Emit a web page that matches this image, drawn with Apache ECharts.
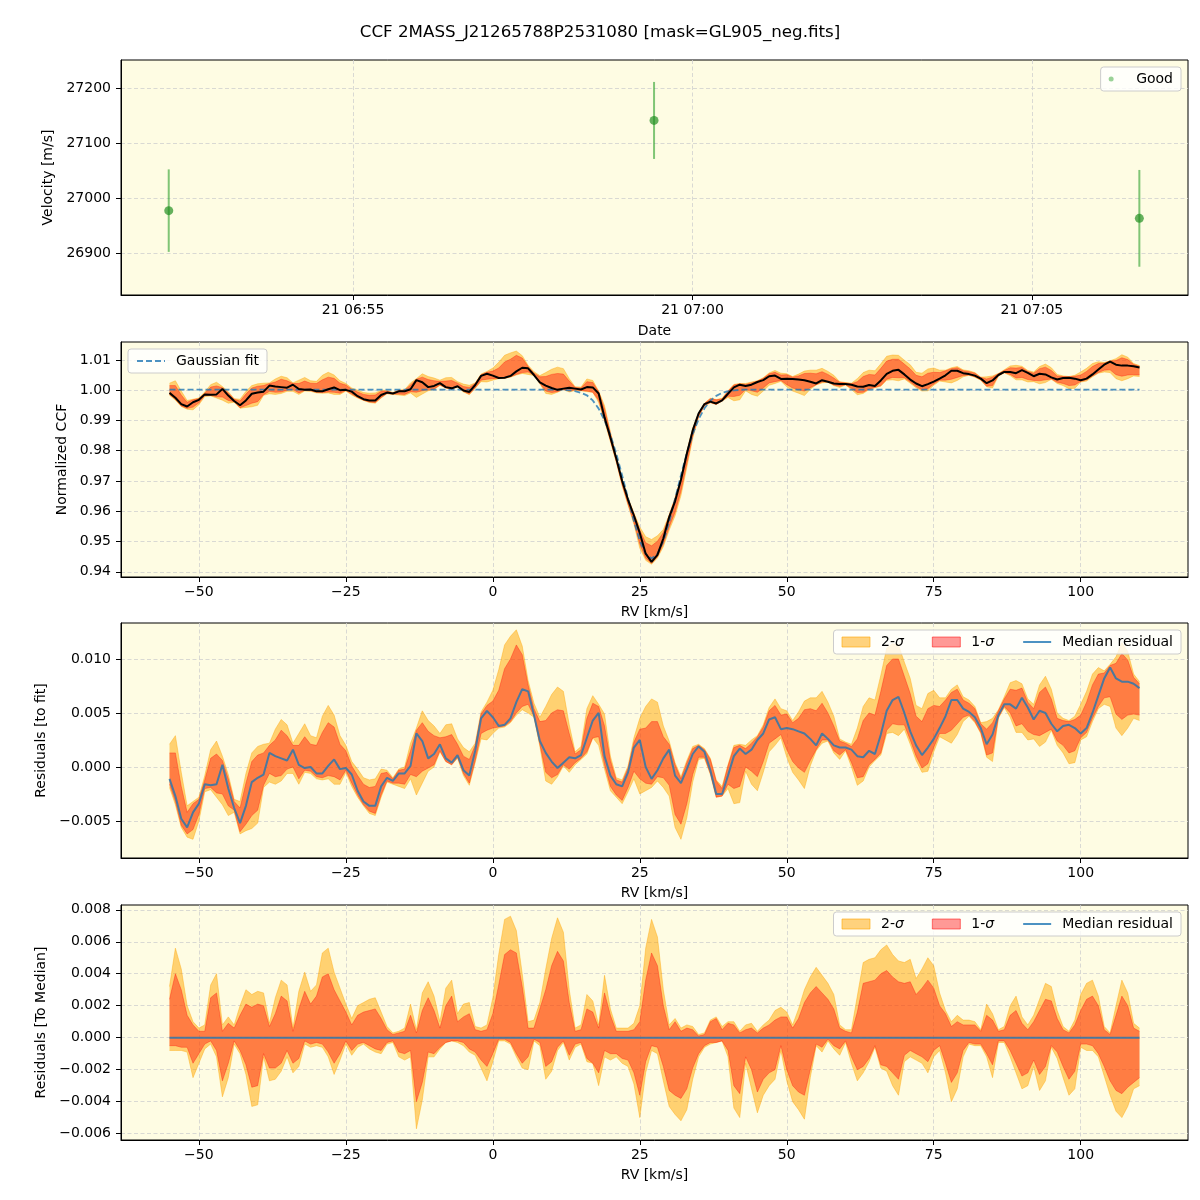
<!DOCTYPE html>
<html><head><meta charset="utf-8">
<script src="https://cdn.jsdelivr.net/npm/echarts@6/dist/echarts.min.js"></script>
<style>html,body{margin:0;padding:0;background:#fff}#c{width:1200px;height:1200px}</style>
</head><body><div id="c"></div>
<script>
// ---------------- data ----------------
const obsDay = '21';
const obsTimes = ['06:52:17', '06:59:26', '07:06:35'];
const obsRV = [26977, 27141, 26963];
const obsErr = [75, 70, 88];
const timeTicks = ['06:55', '07:00', '07:05'];
const velTicks = [26900, 27000, 27100, 27200];
const rvTicks = [-50, -25, 0, 25, 50, 75, 100];
const ccfTicks = [0.94, 0.95, 0.96, 0.97, 0.98, 0.99, 1.00, 1.01];
const resTicks = [-0.005, 0.000, 0.005, 0.010];
const medTicks = [-0.006, -0.004, -0.002, 0.000, 0.002, 0.004, 0.006, 0.008];

const rv = [
-55,-54,-53,-52,-51,-50,-49,-48,-47,-46,
-45,-44,-43,-42,-41,-40,-39,-38,-37,-36,
-35,-34,-33,-32,-31,-30,-29,-28,-27,-26,
-25,-24,-23,-22,-21,-20,-19,-18,-17,-16,
-15,-14,-13,-12,-11,-10,-9,-8,-7,-6,
-5,-4,-3,-2,-1,0,1,2,3,4,
5,6,7,8,9,10,11,12,13,14,
15,16,17,18,19,20,21,22,23,24,
25,26,27,28,29,30,31,32,33,34,
35,36,37,38,39,40,41,42,43,44,
45,46,47,48,49,50,51,52,53,54,
55,56,57,58,59,60,61,62,63,64,
65,66,67,68,69,70,71,72,73,74,
75,76,77,78,79,80,81,82,83,84,
85,86,87,88,89,90,91,92,93,94,
95,96,97,98,99,100,101,102,103,104,
105,106,107,108,109,110];

// Gaussian fit to the CCF
const gaussFit = [
1.0002,1.0002,1.0002,1.0002,1.0002,1.0002,1.0002,1.0002,1.0002,1.0002,
1.0002,1.0002,1.0002,1.0002,1.0002,1.0002,1.0002,1.0002,1.0002,1.0002,
1.0002,1.0002,1.0002,1.0002,1.0002,1.0002,1.0002,1.0002,1.0002,1.0002,
1.0002,1.0002,1.0002,1.0002,1.0002,1.0002,1.0002,1.0002,1.0002,1.0002,
1.0002,1.0002,1.0002,1.0002,1.0002,1.0002,1.0002,1.0002,1.0002,1.0002,
1.0002,1.0002,1.0002,1.0002,1.0002,1.0002,1.0002,1.0002,1.0002,1.0002,
1.0002,1.0002,1.0002,1.0002,1.0002,1.0002,1.0002,1.0001,0.9999,0.9997,
0.9991,0.9983,0.9966,0.9939,0.9900,0.9852,0.9790,0.9718,0.9643,0.9568,
0.9503,0.9460,0.9444,0.9459,0.9502,0.9565,0.9641,0.9719,0.9792,0.9855,
0.9904,0.9940,0.9965,0.9981,0.9991,0.9996,0.9999,1.0001,1.0002,1.0002,
1.0002,1.0002,1.0002,1.0002,1.0002,1.0002,1.0002,1.0002,1.0002,1.0002,
1.0002,1.0002,1.0002,1.0002,1.0002,1.0002,1.0002,1.0002,1.0002,1.0002,
1.0002,1.0002,1.0002,1.0002,1.0002,1.0002,1.0002,1.0002,1.0002,1.0002,
1.0002,1.0002,1.0002,1.0002,1.0002,1.0002,1.0002,1.0002,1.0002,1.0002,
1.0002,1.0002,1.0002,1.0002,1.0002,1.0002,1.0002,1.0002,1.0002,1.0002,
1.0002,1.0002,1.0002,1.0002,1.0002,1.0002,1.0002,1.0002,1.0002,1.0002,
1.0002,1.0002,1.0002,1.0002,1.0002,1.0002];

// Median residual to the fit
const medRes = [
-0.0011,-0.0027,-0.0048,-0.0056,-0.0042,-0.0034,-0.0016,-0.0017,-0.0016,0.0002,
-0.0020,-0.0038,-0.0052,-0.0036,-0.0014,-0.0010,-0.0007,0.0013,0.0010,0.0008,
0.0006,0.0016,0.0002,-0.0001,0.0000,-0.0006,-0.0006,0.0001,0.0007,-0.0002,
-0.0001,-0.0007,-0.0022,-0.0032,-0.0036,-0.0036,-0.0018,-0.0010,-0.0013,-0.0006,
-0.0006,0.0001,0.0031,0.0024,0.0008,0.0012,0.0021,0.0008,0.0004,0.0011,
-0.0003,-0.0008,0.0015,0.0045,0.0052,0.0046,0.0038,0.0039,0.0045,0.0060,
0.0072,0.0070,0.0048,0.0024,0.0013,0.0005,-0.0001,0.0004,0.0009,0.0008,
0.0011,0.0027,0.0043,0.0050,0.0010,-0.0008,-0.0016,-0.0018,-0.0005,0.0018,
0.0025,0.0000,-0.0011,-0.0003,0.0008,0.0016,-0.0008,-0.0015,-0.0002,0.0012,
0.0019,0.0014,-0.0003,-0.0025,-0.0025,-0.0008,0.0010,0.0017,0.0012,0.0016,
0.0025,0.0031,0.0044,0.0046,0.0035,0.0036,0.0035,0.0033,0.0031,0.0026,
0.0020,0.0031,0.0026,0.0020,0.0018,0.0018,0.0016,0.0010,0.0009,0.0015,
0.0012,0.0030,0.0052,0.0062,0.0065,0.0050,0.0033,0.0020,0.0011,0.0018,
0.0026,0.0036,0.0047,0.0062,0.0062,0.0054,0.0051,0.0046,0.0036,0.0021,
0.0030,0.0048,0.0058,0.0058,0.0054,0.0064,0.0055,0.0044,0.0052,0.0050,
0.0040,0.0033,0.0038,0.0039,0.0036,0.0031,0.0036,0.0050,0.0066,0.0082,
0.0092,0.0082,0.0079,0.0079,0.0077,0.0073];

// band edges relative to the median (residuals to median)
const dev1Up = [
0.0024,0.0040,0.0030,0.0014,0.0008,0.0004,0.0004,0.0025,0.0028,0.0004,
0.0009,0.0006,0.0014,0.0021,0.0019,0.0021,0.0020,0.0007,0.0015,0.0026,
0.0023,0.0004,0.0018,0.0029,0.0021,0.0026,0.0038,0.0040,0.0030,0.0023,
0.0016,0.0008,0.0014,0.0016,0.0017,0.0018,0.0012,0.0005,0.0002,0.0003,
0.0004,0.0014,0.0003,0.0017,0.0025,0.0017,0.0006,0.0020,0.0026,0.0010,
0.0013,0.0015,0.0005,0.0004,0.0005,0.0015,0.0033,0.0052,0.0055,0.0053,
0.0032,0.0006,0.0006,0.0018,0.0030,0.0045,0.0054,0.0048,0.0022,0.0004,
0.0005,0.0018,0.0016,0.0006,0.0028,0.0014,0.0004,0.0004,0.0004,0.0005,
0.0010,0.0036,0.0053,0.0045,0.0020,0.0005,0.0010,0.0004,0.0006,0.0005,
0.0001,0.0002,0.0010,0.0012,0.0005,0.0009,0.0008,0.0003,0.0005,0.0006,
0.0003,0.0006,0.0008,0.0011,0.0013,0.0013,0.0006,0.0012,0.0022,0.0028,
0.0032,0.0028,0.0024,0.0018,0.0006,0.0004,0.0003,0.0016,0.0034,0.0035,
0.0036,0.0040,0.0042,0.0038,0.0035,0.0034,0.0035,0.0027,0.0031,0.0036,
0.0031,0.0020,0.0015,0.0007,0.0010,0.0008,0.0008,0.0008,0.0004,0.0014,
0.0011,0.0004,0.0005,0.0014,0.0017,0.0009,0.0005,0.0010,0.0017,0.0024,
0.0023,0.0012,0.0005,0.0003,0.0008,0.0017,0.0024,0.0026,0.0020,0.0005,
0.0002,0.0014,0.0026,0.0020,0.0006,0.0004];

const dev2Up = [
0.0032,0.0056,0.0043,0.0020,0.0010,0.0006,0.0008,0.0033,0.0040,0.0008,
0.0013,0.0008,0.0020,0.0030,0.0027,0.0029,0.0028,0.0009,0.0025,0.0036,
0.0033,0.0006,0.0029,0.0041,0.0029,0.0033,0.0053,0.0056,0.0041,0.0031,
0.0021,0.0012,0.0020,0.0022,0.0024,0.0025,0.0016,0.0007,0.0003,0.0004,
0.0006,0.0021,0.0005,0.0028,0.0035,0.0026,0.0010,0.0031,0.0036,0.0015,
0.0021,0.0022,0.0007,0.0006,0.0008,0.0025,0.0052,0.0074,0.0076,0.0067,
0.0040,0.0010,0.0011,0.0022,0.0043,0.0062,0.0075,0.0066,0.0030,0.0006,
0.0008,0.0027,0.0023,0.0008,0.0039,0.0018,0.0006,0.0006,0.0006,0.0009,
0.0020,0.0056,0.0074,0.0063,0.0030,0.0008,0.0012,0.0006,0.0008,0.0007,
0.0002,0.0003,0.0011,0.0013,0.0007,0.0010,0.0010,0.0004,0.0008,0.0009,
0.0004,0.0008,0.0011,0.0017,0.0019,0.0016,0.0008,0.0018,0.0030,0.0038,
0.0044,0.0039,0.0034,0.0027,0.0008,0.0005,0.0005,0.0026,0.0047,0.0049,
0.0050,0.0055,0.0058,0.0052,0.0048,0.0047,0.0049,0.0037,0.0043,0.0050,
0.0045,0.0028,0.0017,0.0010,0.0014,0.0011,0.0011,0.0010,0.0005,0.0021,
0.0015,0.0005,0.0007,0.0020,0.0026,0.0013,0.0008,0.0014,0.0024,0.0034,
0.0032,0.0017,0.0007,0.0004,0.0011,0.0027,0.0034,0.0036,0.0026,0.0007,
0.0003,0.0020,0.0036,0.0028,0.0009,0.0006];

const dev1Lo = [
-0.0005,-0.0005,-0.0006,-0.0006,-0.0016,-0.0010,-0.0004,-0.0002,-0.0008,-0.0027,
-0.0016,-0.0002,-0.0008,-0.0017,-0.0031,-0.0030,-0.0010,-0.0019,-0.0019,-0.0016,
-0.0008,-0.0016,-0.0013,-0.0002,-0.0004,-0.0003,-0.0004,-0.0009,-0.0016,-0.0010,
-0.0002,-0.0008,-0.0004,-0.0003,-0.0005,-0.0007,-0.0008,-0.0003,-0.0002,-0.0009,
-0.0010,-0.0008,-0.0040,-0.0028,-0.0009,-0.0010,-0.0006,-0.0003,-0.0002,-0.0002,
-0.0003,-0.0007,-0.0009,-0.0014,-0.0018,-0.0010,-0.0001,-0.0001,-0.0003,-0.0010,
-0.0016,-0.0012,-0.0001,-0.0003,-0.0018,-0.0015,-0.0006,-0.0002,-0.0011,-0.0004,
-0.0003,-0.0013,-0.0016,-0.0022,-0.0008,-0.0010,-0.0010,-0.0013,-0.0014,-0.0022,
-0.0036,-0.0015,-0.0005,-0.0006,-0.0018,-0.0033,-0.0036,-0.0038,-0.0032,-0.0019,
-0.0010,-0.0005,-0.0003,-0.0003,-0.0002,-0.0008,-0.0030,-0.0035,-0.0012,-0.0020,
-0.0034,-0.0026,-0.0022,-0.0020,-0.0005,-0.0020,-0.0030,-0.0034,-0.0036,-0.0020,
-0.0004,-0.0006,-0.0001,-0.0005,-0.0007,-0.0002,-0.0012,-0.0020,-0.0018,-0.0013,
-0.0005,-0.0017,-0.0018,-0.0022,-0.0026,-0.0011,-0.0008,-0.0010,-0.0012,-0.0015,
-0.0008,-0.0005,-0.0016,-0.0028,-0.0022,-0.0008,-0.0003,-0.0004,-0.0004,-0.0010,
-0.0017,-0.0002,-0.0002,-0.0008,-0.0016,-0.0024,-0.0022,-0.0014,-0.0023,-0.0018,
-0.0005,-0.0009,-0.0018,-0.0026,-0.0021,-0.0004,-0.0004,-0.0005,-0.0010,-0.0018,
-0.0027,-0.0033,-0.0035,-0.0031,-0.0028,-0.0025];

const dev2Lo = [
-0.0008,-0.0008,-0.0008,-0.0009,-0.0025,-0.0016,-0.0007,-0.0004,-0.0012,-0.0037,
-0.0025,-0.0004,-0.0010,-0.0023,-0.0043,-0.0042,-0.0012,-0.0027,-0.0026,-0.0021,
-0.0012,-0.0022,-0.0018,-0.0004,-0.0006,-0.0005,-0.0006,-0.0012,-0.0023,-0.0014,
-0.0004,-0.0011,-0.0006,-0.0004,-0.0007,-0.0009,-0.0010,-0.0004,-0.0003,-0.0012,
-0.0014,-0.0012,-0.0057,-0.0039,-0.0012,-0.0012,-0.0007,-0.0003,-0.0002,-0.0003,
-0.0005,-0.0009,-0.0011,-0.0019,-0.0027,-0.0015,-0.0002,-0.0002,-0.0004,-0.0012,
-0.0019,-0.0020,-0.0002,-0.0005,-0.0026,-0.0021,-0.0008,-0.0003,-0.0014,-0.0006,
-0.0004,-0.0015,-0.0016,-0.0030,-0.0012,-0.0014,-0.0012,-0.0016,-0.0018,-0.0029,
-0.0050,-0.0022,-0.0008,-0.0010,-0.0027,-0.0043,-0.0048,-0.0052,-0.0045,-0.0026,
-0.0012,-0.0006,-0.0004,-0.0003,-0.0002,-0.0012,-0.0044,-0.0050,-0.0016,-0.0032,
-0.0047,-0.0036,-0.0030,-0.0026,-0.0008,-0.0027,-0.0040,-0.0045,-0.0051,-0.0025,
-0.0005,-0.0009,-0.0002,-0.0007,-0.0011,-0.0003,-0.0016,-0.0027,-0.0022,-0.0015,
-0.0006,-0.0019,-0.0021,-0.0030,-0.0036,-0.0015,-0.0012,-0.0014,-0.0016,-0.0022,
-0.0012,-0.0008,-0.0022,-0.0040,-0.0032,-0.0012,-0.0004,-0.0005,-0.0005,-0.0012,
-0.0025,-0.0003,-0.0003,-0.0012,-0.0022,-0.0032,-0.0030,-0.0018,-0.0033,-0.0027,
-0.0006,-0.0013,-0.0025,-0.0036,-0.0032,-0.0006,-0.0008,-0.0008,-0.0012,-0.0024,
-0.0036,-0.0046,-0.0050,-0.0043,-0.0032,-0.0030];

// ---------------- chart ----------------
const FONT = 'DejaVu Sans';
const BG = '#fefce3';
const C2 = 'rgba(255,165,0,0.5)';
const C1 = 'rgba(255,0,0,0.4)';
const CMED = 'rgba(31,119,180,0.8)';

const minus = s => String(s).replace('-', '\u2212');
const tmin = t => { const p = t.split(':').map(Number); return p[0] * 60 + p[1] + (p[2] || 0) / 60; };
const pad = n => (n < 10 ? '0' : '') + n;

const gridBox = [[60, 235], [342, 235], [623, 235], [905, 235]];
const grids = gridBox.map(([top, height]) => ({
  left: 121, right: 12, top, height, show: true, backgroundColor: BG,
  borderColor: '#000', borderWidth: 1, containLabel: false, outerBoundsMode: 'none'
}));

function axis(gi, min, max, ticks, fmt, name, nameGap, isX) {
  return {
    type: 'value', gridIndex: gi, min, max, scale: true,
    name, nameLocation: 'middle', nameGap,
    nameTextStyle: { color: '#000', fontSize: 14, fontFamily: FONT },
    axisLine: { show: true, onZero: false, lineStyle: { color: '#000', width: 1 } },
    axisTick: { show: true, inside: false, length: 5, customValues: ticks, lineStyle: { color: '#000', width: 1 } },
    axisLabel: { show: true, customValues: ticks, formatter: fmt, color: '#000', fontSize: 14, fontFamily: FONT, margin: isX ? 8 : 10 },
    splitLine: { show: true, lineStyle: { color: '#cfcfcf', type: [4, 2.5], width: 0.8 } }
  };
}

const timeTickVals = timeTicks.map(tmin);
const rvFmt = v => minus(String(v));
const xAxes = [
  axis(0, 411.58, 427.30, timeTickVals, v => { const h = Math.floor(v / 60); const m = Math.round(v - h * 60); return obsDay + ' ' + pad(h) + ':' + pad(m); }, 'Date', 29, true),
  axis(1, -63.25, 118.25, rvTicks, rvFmt, 'RV [km/s]', 28, true),
  axis(2, -63.25, 118.25, rvTicks, rvFmt, 'RV [km/s]', 28, true),
  axis(3, -63.25, 118.25, rvTicks, rvFmt, 'RV [km/s]', 28, true)
];
const yAxes = [
  axis(0, 26823.6, 27250.9, velTicks, v => String(Math.round(v)), 'Velocity [m/s]', 55, false),
  axis(1, 0.9383, 1.0159, ccfTicks, v => v.toFixed(2), 'Normalized CCF', 42, false),
  axis(2, -0.00843, 0.01333, resTicks, v => minus(v.toFixed(3)), 'Residuals [to fit]', 63, false),
  axis(3, -0.0064, 0.0083, medTicks, v => minus(v.toFixed(3)), 'Residuals [To Median]', 63, false)
];

// a filled band (between lower and upper edge) drawn as one polygon through the axis scales
function band(gi, base, lo, hi, color, name) {
  return {
    type: 'custom', name, xAxisIndex: gi, yAxisIndex: gi, silent: true,
    itemStyle: { color },
    data: rv.map((x, i) => [x, base[i] + lo[i], base[i] + hi[i]]),
    encode: { x: 0, y: [1, 2] },
    renderItem: (params, api) => {
      if (params.dataIndexInside !== 0) return null;
      const n = params.dataInsideLength;
      const up = [], dn = [];
      for (let j = 0; j < n; j++) {
        const x = api.value(0, j);
        up.push(api.coord([x, api.value(2, j)]));
        dn.push(api.coord([x, api.value(1, j)]));
      }
      const poly = up.concat(dn.slice().reverse());
      return {
        type: 'group',
        children: [
          { type: 'polygon', shape: { points: poly }, style: { fill: color, stroke: null } },
          { type: 'polyline', shape: { points: up }, style: { fill: null, stroke: color, lineWidth: 0.8 } },
          { type: 'polyline', shape: { points: dn }, style: { fill: null, stroke: color, lineWidth: 0.8 } }
        ]
      };
    }
  };
}

const ccfMed = rv.map((x, i) => gaussFit[i] + medRes[i]);
const zeroBase = rv.map(() => 0);

const series = [];
// panel 1
series.push({
  type: 'custom', name: 'errbar', xAxisIndex: 0, yAxisIndex: 0, silent: true,
  data: obsTimes.map((t, i) => [tmin(t), obsRV[i] - obsErr[i], obsRV[i] + obsErr[i]]),
  encode: { x: 0, y: [1, 2] },
  renderItem: (params, api) => {
    const x = api.value(0);
    const p1 = api.coord([x, api.value(1)]);
    const p2 = api.coord([x, api.value(2)]);
    return { type: 'line', shape: { x1: p1[0], y1: p1[1], x2: p2[0], y2: p2[1] }, style: { stroke: 'rgba(44,160,44,0.6)', lineWidth: 2 } };
  }
});
series.push({
  type: 'scatter', name: 'Good', xAxisIndex: 0, yAxisIndex: 0, symbolSize: 9,
  data: obsTimes.map((t, i) => [tmin(t), obsRV[i]]),
  itemStyle: { color: 'rgba(30,140,30,0.85)' }
});
// panel 2
series.push(band(1, ccfMed, dev2Lo, dev2Up, C2, 'CCF 2-σ'));
series.push(band(1, ccfMed, dev1Lo, dev1Up, C1, 'CCF 1-σ'));
series.push({ type: 'line', name: 'Gaussian fit', xAxisIndex: 1, yAxisIndex: 1, symbol: 'none', showSymbol: false,
  data: rv.map((x, i) => [x, gaussFit[i]]), itemStyle: { color: 'rgba(31,119,180,0.8)' },
  lineStyle: { color: 'rgba(31,119,180,0.8)', width: 1.8, type: [6, 3] } });
series.push({ type: 'line', name: 'CCF median', xAxisIndex: 1, yAxisIndex: 1, symbol: 'none', showSymbol: false,
  data: rv.map((x, i) => [x, ccfMed[i]]), lineStyle: { color: '#000', width: 2 }, itemStyle: { color: '#000' } });
// panel 3
series.push(band(2, medRes, dev2Lo, dev2Up, C2, '2-σ'));
series.push(band(2, medRes, dev1Lo, dev1Up, C1, '1-σ'));
series.push({ type: 'line', name: 'Median residual', xAxisIndex: 2, yAxisIndex: 2, symbol: 'none', showSymbol: false,
  data: rv.map((x, i) => [x, medRes[i]]), itemStyle: { color: CMED }, lineStyle: { color: CMED, width: 2 } });
// panel 4
series.push(band(3, zeroBase, dev2Lo, dev2Up, C2, '2-σ'));
series.push(band(3, zeroBase, dev1Lo, dev1Up, C1, '1-σ'));
series.push({ type: 'line', name: 'Median residual', xAxisIndex: 3, yAxisIndex: 3, symbol: 'none', showSymbol: false,
  data: rv.map((x, i) => [x, medRes[i] - medRes[i]]), itemStyle: { color: CMED }, lineStyle: { color: CMED, width: 2 } });

const legendBase = {
  orient: 'horizontal', itemWidth: 28, itemHeight: 10, itemGap: 28,
  backgroundColor: 'rgba(255,255,255,0.8)', borderColor: '#cccccc', borderWidth: 1, borderRadius: 3,
  padding: [5, 8], selectedMode: false,
  textStyle: { color: '#000', fontSize: 14, fontFamily: FONT, padding: [0, 0, 0, 6],
    rich: { i: { fontStyle: 'italic', fontSize: 14, fontFamily: FONT, color: '#000' } } },
  formatter: n => n.replace('σ', '{i|σ}')
};
const bandLegendData = [
  { name: '2-σ', icon: 'rect', itemStyle: { color: C2, borderColor: 'rgba(255,165,0,0.6)', borderWidth: 1 } },
  { name: '1-σ', icon: 'rect', itemStyle: { color: C1, borderColor: 'rgba(255,0,0,0.5)', borderWidth: 1 } },
  { name: 'Median residual', itemStyle: { opacity: 0 } }
];
const legends = [
  Object.assign({}, legendBase, { right: 19, top: 67, itemHeight: 5,
    data: [{ name: 'Good', icon: 'circle', itemStyle: { color: 'rgba(44,160,44,0.6)' } }] }),
  Object.assign({}, legendBase, { left: 128, top: 349, itemHeight: 14, data: [{ name: 'Gaussian fit', itemStyle: { opacity: 0 } }] }),
  Object.assign({}, legendBase, { right: 19, top: 630, data: bandLegendData }),
  Object.assign({}, legendBase, { right: 19, top: 912, data: bandLegendData })
];

const chart = echarts.init(document.getElementById('c'), null, { renderer: 'canvas' });
chart.setOption({
  animation: false,
  backgroundColor: '#fff',
  title: { text: 'CCF 2MASS_J21265788P2531080 [mask=GL905_neg.fits]', left: 'center', top: 24, padding: 0,
    textStyle: { fontSize: 16.7, fontWeight: 'normal', color: '#000', fontFamily: FONT } },
  grid: grids, xAxis: xAxes, yAxis: yAxes, legend: legends, series
});
</script></body></html>
